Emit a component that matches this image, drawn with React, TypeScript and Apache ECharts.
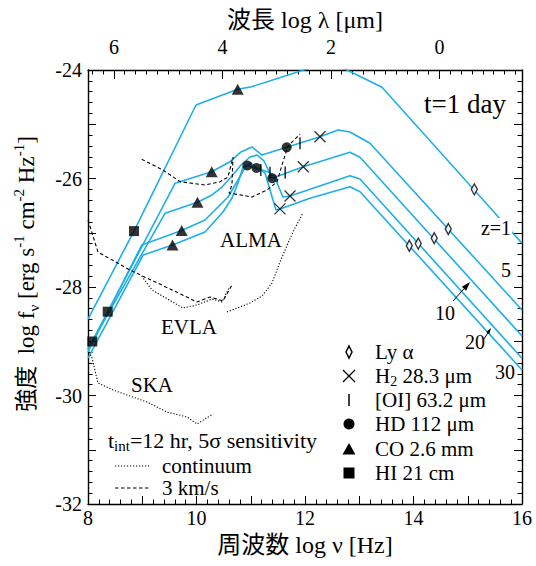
import React, { useEffect, useRef } from "react";
import * as echarts from "echarts";

// ---- model afterglow spectra, t = 1 day (log nu [Hz], log f_nu) ----
const z1Nu = [8.0, 8.848, 9.991, 10.759, 11.018, 12.406, 12.774, 13.419, 16.0];
const z1F = [-28.59, -26.97, -24.645, -24.356, -24.308, -23.862, -24.0, -24.319, -27.194];

const z5Nu = [8.0, 9.604, 10.28, 10.618, 10.82, 11.023, 11.207, 11.663, 12.276, 12.608, 12.829, 13.198, 16.0];
const z5F = [-29.152, -26.088, -25.875, -25.69, -25.511, -25.419, -25.567, -25.425, -25.229, -25.106, -25.143, -25.351, -28.424];

const z10Nu = [8.0, 9.419, 10.018, 10.286, 10.47, 10.654, 10.82, 10.986, 11.115, 11.244, 11.397, 11.968, 12.829, 13.014, 16.0];
const z10F = [-29.143, -26.641, -26.437, -26.304, -26.157, -25.954, -25.751, -25.604, -25.567, -25.677, -25.996, -25.782, -25.517, -25.609, -28.903];

const z20Nu = [8.0, 8.99, 9.727, 10.157, 10.581, 10.765, 10.912, 11.005, 11.106, 11.355, 11.429, 11.594, 11.724, 12.092, 12.829, 13.014, 16.0];
const z20F = [-29.198, -27.226, -26.959, -26.765, -26.341, -26.028, -25.77, -25.714, -25.806, -25.893, -25.954, -26.341, -26.323, -26.199, -25.948, -26.009, -29.314];

const z30Nu = [8.0, 9.019, 9.558, 10.157, 10.488, 10.654, 10.765, 10.857, 10.937, 11.189, 11.263, 11.465, 11.539, 12.092, 12.829, 13.014, 16.0];
const z30F = [-29.309, -27.41, -27.226, -26.986, -26.618, -26.359, -26.083, -25.788, -25.76, -25.843, -25.899, -26.581, -26.56, -26.365, -26.151, -26.243, -29.53];

// ---- line markers ----
const lyaNu = [15.121, 14.641, 14.382, 14.088, 13.923];
const lyaF = [-26.2, -26.93, -27.1, -27.2, -27.24];
const h2Nu = [12.276, 11.968, 11.724, 11.539];
const h2F = [-25.229, -25.782, -26.323, -26.56];
const oiNu = [11.908, 11.635, 11.355, 11.185];
const oiF = [-25.351, -25.89, -25.893, -25.843];
const hdNu = [11.663, 11.397, 11.106, 10.937];
const hdF = [-25.425, -25.996, -25.806, -25.76];
const coNu = [10.759, 10.28, 10.018, 9.727, 9.558];
const coF = [-24.356, -25.875, -26.437, -26.959, -27.226];
const hiNu = [8.848, 8.363, 8.079];
const hiF = [-26.97, -28.455, -29.004];

// ---- sensitivities (t_int = 12 hr, 5 sigma) ----
const almaLineNu = [8.99, 9.382, 9.696, 10.157, 10.433, 10.581, 10.673, 10.654, 10.599, 11.023, 11.3, 11.484, 11.576, 11.687, 11.908];
const almaLineF = [-25.646, -25.844, -26.059, -26.12, -26.059, -25.972, -25.604, -26.12, -26.267, -26.341, -26.212, -26.065, -25.751, -25.401, -25.18];
const almaContNu = [10.562, 10.986, 11.207, 11.392, 11.539, 11.687, 11.816, 11.963];
const almaContF = [-28.461, -28.295, -28.166, -27.926, -27.539, -27.189, -26.912, -26.636];
const evlaLineNu = [8.0, 8.184, 8.774, 9.475, 10.009, 10.249, 10.488, 10.654];
const evlaLineF = [-26.765, -27.355, -27.687, -28.018, -28.276, -28.184, -28.258, -27.963];
const evlaContNu = [8.99, 9.18, 9.751, 10.009, 10.286, 10.47, 10.599];
const evlaContF = [-27.797, -28.055, -28.387, -28.332, -28.221, -28.276, -28.018];
const skaContNu = [8.018, 8.074, 8.184, 8.461, 9.088, 9.456, 9.825, 10.009, 10.304];
const skaContF = [-29.198, -29.309, -29.77, -29.899, -30.12, -30.304, -30.396, -30.525, -30.341];

// ---- axes ----
const LOG_C_UM = 14.477; // log10(c in um/s): log lambda[um] = LOG_C_UM - log nu
const lambdaLabels = [6, 4, 2, 0];
const nuLabelsEvery = 2;

const FONT = "'Liberation Serif', 'Times New Roman', 'Noto Sans CJK JP', serif";
const CYAN = "#1eafe8";

const zip = (a: number[], b: number[]) => a.map((v, i) => [v, b[i]]);

const topMinorNu: number[] = [];
for (let k = -7; k <= 32; k++) {
  const lam = k * 0.2;
  const nu = LOG_C_UM - lam;
  if (nu >= 8 && nu <= 16) topMinorNu.push(+nu.toFixed(4));
}
const topMajorNu = lambdaLabels.map((l) => +(LOG_C_UM - l).toFixed(4));

const txt = (x: number, y: number, text: string, size: number, align = "left", extra: any = {}) => ({
  type: "text",
  x,
  y,
  z: 100,
  style: {
    text,
    fontSize: size,
    fontFamily: FONT,
    fill: "#000",
    align,
    verticalAlign: "middle",
    textAlign: align,
    textVerticalAlign: "middle",
    ...extra,
  },
});

const arrow = (x1: number, y1: number, x2: number, y2: number, head = 8) => {
  const dx = x2 - x1, dy = y2 - y1;
  const L = Math.hypot(dx, dy);
  const ux = dx / L, uy = dy / L;
  const bx = x2 - ux * head, by = y2 - uy * head;
  const px = -uy, py = ux;
  const w = head * 0.32;
  return [
    { type: "line", z: 100, shape: { x1, y1, x2: bx, y2: by }, style: { stroke: "#000", lineWidth: 1 } },
    {
      type: "polygon", z: 100,
      shape: { points: [[x2, y2], [bx + px * w, by + py * w], [bx - px * w, by - py * w]] },
      style: { fill: "#000" },
    },
  ];
};

const richBase = { fontSize: 21, fontFamily: FONT, fill: "#000", lineHeight: 24 };
const richSub = { fontSize: 14, fontFamily: FONT, fill: "#000", verticalAlign: "bottom", lineHeight: 12 };
const richSup = { fontSize: 14, fontFamily: FONT, fill: "#000", verticalAlign: "top", lineHeight: 12 };

const LEG_X = 349;
const LEG_TX = 375;
const legRows = [352, 376, 400, 424, 449, 473];

function buildOption() {
  const modelSeries = [
    [z1Nu, z1F],
    [z5Nu, z5F],
    [z10Nu, z10F],
    [z20Nu, z20F],
    [z30Nu, z30F],
  ].map(([nu, f], i) => ({
    type: "line",
    name: "model" + i,
    data: zip(nu, f),
    symbol: "none",
    clip: true,
    silent: true,
    lineStyle: { color: CYAN, width: 1.6 },
    z: 2,
  }));

  const sens = (nu: number[], f: number[], dash: number[]) => ({
    type: "line",
    data: zip(nu, f),
    symbol: "none",
    clip: true,
    silent: true,
    lineStyle: { color: "#000", width: 1.1, type: dash },
    z: 2,
  });
  const DOT = [1.2, 1.8];
  const DASH = [3.5, 2.5];

  const sc = (nu: number[], f: number[], symbol: string, size: any, itemStyle: any) => ({
    type: "scatter",
    data: zip(nu, f),
    symbol,
    symbolSize: size,
    itemStyle,
    silent: true,
    z: 5,
  });

  const axisText = { fontSize: 20, fontFamily: FONT, color: "#000" };
  const evenFmt = (v: number) => (Math.abs(Math.round(v)) % nuLabelsEvery === 0 ? String(Math.round(v)) : "");

  const graphic: any[] = [
    txt(305, 20, "波長 log λ [μm]", 24, "center"),
    txt(305, 545, "周波数 log ν [Hz]", 24, "center"),
    {
      type: "text",
      x: 26,
      y: 274,
      rotation: Math.PI / 2,
      z: 100,
      style: {
        text: "{c|強度}{a|  log f}{s|ν}{a| [erg s}{p|-1}{a| cm}{p|-2}{a| Hz}{p|-1}{a|]}",
        align: "center",
        verticalAlign: "middle",
        textAlign: "center",
        textVerticalAlign: "middle",
        rich: {
          c: { fontSize: 23, fontFamily: FONT, fill: "#000", lineHeight: 30 },
          a: { fontSize: 23, fontFamily: FONT, fill: "#000", lineHeight: 30 },
          s: { ...richSub, fontSize: 15, lineHeight: 14 },
          p: { ...richSup, fontSize: 15, lineHeight: 14 },
        },
      },
    },
    txt(506, 104, "t=1 day", 27, "right"),
    txt(496, 228, "z=1", 20, "center", { backgroundColor: "#fff", padding: [0, 1] }),
    txt(506, 270, "5", 20, "center"),
    txt(445, 313, "10", 20, "center"),
    txt(475, 342, "20", 20, "center"),
    txt(505, 372, "30", 20, "center"),
    ...arrow(453, 301, 470, 282, 9),
    ...arrow(484, 339, 491, 328, 6),
    txt(251, 240, "ALMA", 21, "center"),
    txt(189, 327, "EVLA", 21, "center"),
    txt(152, 385, "SKA", 21, "center"),
    // sensitivity legend
    {
      type: "text",
      x: 108,
      y: 440,
      z: 100,
      style: {
        text: "{a|t}{s|int}{a|=12 hr, 5σ sensitivity}",
        align: "left",
        verticalAlign: "middle",
        textAlign: "left",
        textVerticalAlign: "middle",
        rich: { a: { ...richBase, fontSize: 22, lineHeight: 26 }, s: { ...richSub, fontSize: 15 } },
      },
    },
    { type: "line", z: 100, shape: { x1: 115, y1: 466, x2: 150, y2: 466 }, style: { stroke: "#000", lineWidth: 1.1, lineDash: DOT } },
    txt(162, 466, "continuum", 21, "left"),
    { type: "line", z: 100, shape: { x1: 115, y1: 488, x2: 150, y2: 488 }, style: { stroke: "#000", lineWidth: 1.1, lineDash: DASH } },
    txt(162, 488, "3 km/s", 21, "left"),
    // marker legend
    {
      type: "polygon", z: 100,
      shape: { points: [[LEG_X, legRows[0] - 6], [LEG_X + 3, legRows[0]], [LEG_X, legRows[0] + 6], [LEG_X - 3, legRows[0]]] },
      style: { fill: "#fff", stroke: "#000", lineWidth: 1.5 },
    },
    txt(LEG_TX, legRows[0], "Ly α", 21, "left"),
    { type: "line", z: 100, shape: { x1: LEG_X - 6, y1: legRows[1] - 6, x2: LEG_X + 6, y2: legRows[1] + 6 }, style: { stroke: "#000", lineWidth: 1.3 } },
    { type: "line", z: 100, shape: { x1: LEG_X - 6, y1: legRows[1] + 6, x2: LEG_X + 6, y2: legRows[1] - 6 }, style: { stroke: "#000", lineWidth: 1.3 } },
    {
      type: "text",
      x: LEG_TX,
      y: legRows[1],
      z: 100,
      style: {
        text: "{a|H}{s|2}{a| 28.3 μm}",
        align: "left",
        verticalAlign: "middle",
        textAlign: "left",
        textVerticalAlign: "middle",
        rich: { a: richBase, s: richSub },
      },
    },
    { type: "line", z: 100, shape: { x1: LEG_X, y1: legRows[2] - 6, x2: LEG_X, y2: legRows[2] + 6 }, style: { stroke: "#000", lineWidth: 1.5 } },
    txt(LEG_TX, legRows[2], "[OI] 63.2 μm", 21, "left"),
    { type: "circle", z: 100, shape: { cx: LEG_X, cy: legRows[3], r: 5.5 }, style: { fill: "#000" } },
    txt(LEG_TX, legRows[3], "HD 112 μm", 21, "left"),
    {
      type: "polygon", z: 100,
      shape: { points: [[LEG_X, legRows[4] - 6], [LEG_X + 6.5, legRows[4] + 5.5], [LEG_X - 6.5, legRows[4] + 5.5]] },
      style: { fill: "#000" },
    },
    txt(LEG_TX, legRows[4], "CO 2.6 mm", 21, "left"),
    { type: "rect", z: 100, shape: { x: LEG_X - 5.5, y: legRows[5] - 5.5, width: 11, height: 11 }, style: { fill: "#000" } },
    txt(LEG_TX, legRows[5], "HI 21 cm", 21, "left"),
  ];

  return {
    animation: false,
    backgroundColor: "#fff",
    grid: { left: 88, top: 70, width: 434, height: 434, containLabel: false, outerBoundsMode: "none" },
    xAxis: [
      {
        type: "value",
        position: "bottom",
        min: 8,
        max: 16,
        interval: 1,
        axisLine: { show: true, onZero: false, lineStyle: { color: "#000", width: 1.4 } },
        axisTick: { show: true, inside: true, length: 8, lineStyle: { color: "#000", width: 1 } },
        minorTick: { show: true, splitNumber: 5, length: 4.5, lineStyle: { color: "#000", width: 1 } },
        axisLabel: { ...axisText, margin: 4, formatter: evenFmt },
        splitLine: { show: false },
      },
      {
        type: "value",
        position: "top",
        min: 8,
        max: 16,
        axisLine: { show: true, onZero: false, lineStyle: { color: "#000", width: 1.4 } },
        axisTick: { show: true, inside: true, length: 4.5, customValues: topMinorNu, lineStyle: { color: "#000", width: 1 } },
        axisLabel: {
          ...axisText,
          margin: 13,
          customValues: topMajorNu,
          formatter: (v: number) => String(Math.round(LOG_C_UM - v)),
        },
        splitLine: { show: false },
      },
      {
        type: "value",
        position: "top",
        min: 8,
        max: 16,
        axisLine: { show: false },
        axisTick: { show: true, inside: true, length: 9, customValues: topMajorNu, lineStyle: { color: "#000", width: 1 } },
        axisLabel: { show: false },
        splitLine: { show: false },
      },
    ],
    yAxis: [
      {
        type: "value",
        position: "left",
        min: -32,
        max: -24,
        interval: 1,
        axisLine: { show: true, onZero: false, lineStyle: { color: "#000", width: 1.4 } },
        axisTick: { show: true, inside: true, length: 8, lineStyle: { color: "#000", width: 1 } },
        minorTick: { show: true, splitNumber: 5, length: 4.5, lineStyle: { color: "#000", width: 1 } },
        axisLabel: { ...axisText, margin: 6, formatter: evenFmt },
        splitLine: { show: false },
      },
      {
        type: "value",
        position: "right",
        min: -32,
        max: -24,
        interval: 1,
        axisLine: { show: true, onZero: false, lineStyle: { color: "#000", width: 1.4 } },
        axisTick: { show: true, inside: true, length: 8, lineStyle: { color: "#000", width: 1 } },
        minorTick: { show: true, splitNumber: 5, length: 4.5, lineStyle: { color: "#000", width: 1 } },
        axisLabel: { show: false },
        splitLine: { show: false },
      },
    ],
    series: [
      ...modelSeries,
      sens(almaLineNu, almaLineF, DASH),
      sens(almaContNu, almaContF, DOT),
      sens(evlaLineNu, evlaLineF, DASH),
      sens(evlaContNu, evlaContF, DOT),
      sens(skaContNu, skaContF, DOT),
      sc(lyaNu, lyaF, "diamond", [6, 11], { color: "#fff", borderColor: "#000", borderWidth: 1.5 }),
      sc(h2Nu, h2F, "path://M0,0L10,10M10,0L0,10", 11, { color: "rgba(0,0,0,0)", borderColor: "#000", borderWidth: 1.3 }),
      sc(oiNu, oiF, "rect", [1.6, 12], { color: "#000" }),
      sc(hdNu, hdF, "circle", 10, { color: "#000" }),
      sc(coNu, coF, "triangle", [12, 11], { color: "#000" }),
      sc(hiNu, hiF, "rect", 10, { color: "#000" }),
    ],
    graphic,
  };
}

export default function App() {
  const ref = useRef<HTMLDivElement>(null);
  useEffect(() => {
    if (!ref.current) return;
    const chart = echarts.init(ref.current, null, { renderer: "svg" });
    chart.setOption(buildOption() as any);
    return () => chart.dispose();
  }, []);
  return (
    <div
      ref={ref}
      style={{ position: "absolute", left: 0, top: 0, width: 536, height: 566, background: "#fff" }}
    />
  );
}
